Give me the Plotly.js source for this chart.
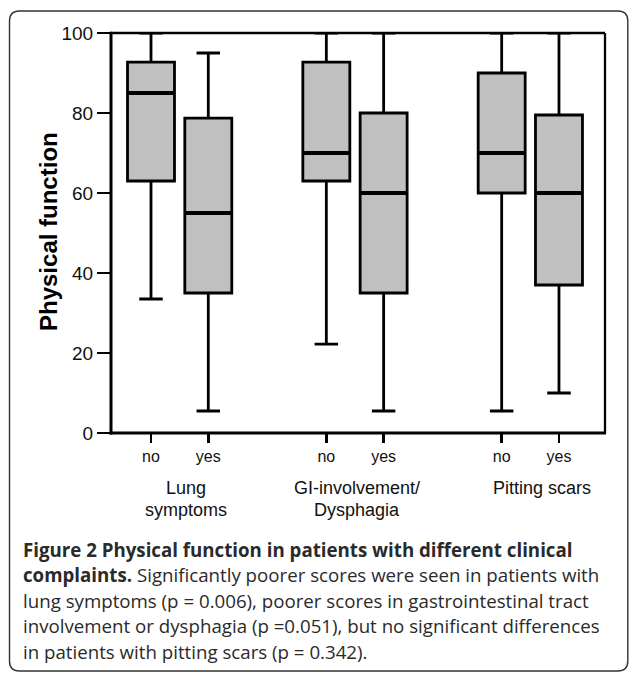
<!DOCTYPE html>
<html>
<head>
<meta charset="utf-8">
<script src="https://cdn.plot.ly/plotly-3.0.1.min.js"></script>
<style>
  html, body { margin: 0; padding: 0; background: #fff; }
  #chart { width: 629px; height: 673px; }
</style>
</head>
<body>
<div id="chart"></div>
<script>
// ---- data ----
const groups = ['Lung symptoms', 'GI-involvement/ Dysphagia', 'Pitting scars'];
const groupLabelLines = [['Lung', 'symptoms'], ['GI-involvement/', 'Dysphagia'], ['Pitting scars']];
const answers = ['no', 'yes'];
const lowerWhisker = [33.5, 5.5, 22.2, 5.5, 5.5, 10];
const q1Values     = [63, 35, 63, 35, 60, 37];
const medianValues = [85, 55, 70, 60, 70, 60];
const q3Values     = [92.7, 78.7, 92.7, 80, 90, 79.5];
const upperWhisker = [100, 95, 100, 100, 100, 100];
const yTickValues  = [0, 20, 40, 60, 80, 100];
const yTitle = 'Physical function';
const captionLines = [
  '<b>Figure 2 Physical function in patients with different clinical</b>',
  '<b>complaints.</b> Significantly poorer scores were seen in patients with',
  'lung symptoms (p = 0.006), poorer scores in gastrointestinal tract',
  'involvement or dysphagia (p =0.051), but no significant differences',
  'in patients with pitting scars (p = 0.342).'
];

// ---- layout geometry ----
const W = 629, H = 673;
const PL = 111, PR = 605, PT = 33, PB = 433;
const GROUP_GAP = 3.06;
const BOX_W = 0.82;
const fx = px => (px - PL) / (PR - PL);
const fy = py => (PB - py) / (PB - PT);

const positions = [];
const tickText = [];
groups.forEach((g, gi) => answers.forEach((a, ai) => {
  positions.push(gi * GROUP_GAP + ai);
  tickText.push(a);
}));

const ARIAL = '"Liberation Sans", Arial, sans-serif';
const CAPTION_FONT = '"Open Sans", "Noto Sans", sans-serif';

const boxTrace = {
  type: 'box',
  x: positions,
  q1: q1Values,
  median: medianValues,
  q3: q3Values,
  lowerfence: lowerWhisker,
  upperfence: upperWhisker,
  boxpoints: false,
  width: BOX_W,
  whiskerwidth: 0.5,
  fillcolor: '#c0c0c0',
  line: { color: '#000', width: 2.8 },
  hoverinfo: 'skip',
  showlegend: false
};

// thicker median bars
const mx = [], my = [];
positions.forEach((p, i) => {
  mx.push(p - BOX_W / 2 + 0.02, p + BOX_W / 2 - 0.02, null);
  my.push(medianValues[i], medianValues[i], null);
});
const medianTrace = {
  type: 'scatter', mode: 'lines', x: mx, y: my,
  line: { color: '#000', width: 4.2 },
  hoverinfo: 'skip', showlegend: false
};

const annotations = [];
// y axis title
annotations.push({
  xref: 'paper', yref: 'paper', x: fx(48), y: fy(231),
  text: '<b>' + yTitle + '</b>', textangle: -90, showarrow: false,
  xanchor: 'center', yanchor: 'middle',
  font: { family: ARIAL, size: 24, color: '#000' }
});
// group labels
const groupCenterPx = [186, 357, 542];
const lineCenterPx = [488, 510];
groupLabelLines.forEach((lines, gi) => {
  lines.forEach((ln, li) => {
    annotations.push({
      xref: 'paper', yref: 'paper', x: fx(groupCenterPx[gi]), y: fy(lineCenterPx[li]),
      text: ln, showarrow: false, xanchor: 'center', yanchor: 'middle',
      font: { family: ARIAL, size: 18, color: '#111' }
    });
  });
});
// caption
const captionCenterPx = [549, 574.5, 600, 625.5, 651];
captionLines.forEach((ln, i) => {
  annotations.push({
    xref: 'paper', yref: 'paper', x: fx(21), y: fy(captionCenterPx[i]),
    text: ln, showarrow: false, xanchor: 'left', yanchor: 'middle', align: 'left',
    font: { family: CAPTION_FONT, size: 18.7, color: '#2a2a2a' }
  });
});

// outer rounded frame
const L = 9.5, T = 11, R = 627.8, B = 671, r = 10;
const P = (px, py) => fx(px) + ',' + fy(py);
const framePath = 'M' + P(L, T + r) + ' Q' + P(L, T) + ' ' + P(L + r, T) +
  ' L' + P(R - r, T) + ' Q' + P(R, T) + ' ' + P(R, T + r) +
  ' L' + P(R, B - r) + ' Q' + P(R, B) + ' ' + P(R - r, B) +
  ' L' + P(L + r, B) + ' Q' + P(L, B) + ' ' + P(L, B - r) + ' Z';

const shapes = [
  { type: 'path', xref: 'paper', yref: 'paper', path: framePath,
    line: { color: '#333', width: 1.4 }, layer: 'below' },
  // plot frame
  { type: 'line', xref: 'paper', yref: 'paper', x0: 0, x1: 0, y0: -0.004, y1: 1.003, line: { color: '#000', width: 3 } },
  { type: 'line', xref: 'paper', yref: 'paper', x0: -0.003, x1: 1.002, y0: 0, y1: 0, line: { color: '#000', width: 3 } },
  { type: 'line', xref: 'paper', yref: 'paper', x0: 0, x1: 1, y0: 1, y1: 1, line: { color: '#000', width: 2.3 } },
  { type: 'line', xref: 'paper', yref: 'paper', x0: 1, x1: 1, y0: 0, y1: 1, line: { color: '#000', width: 2.3 } }
];

const xMin = (PL - 151) / 57.3, xMax = (PR - 151) / 57.3;

const layout = {
  width: W, height: H,
  margin: { l: PL, r: W - PR, t: PT, b: H - PB, pad: 0 },
  paper_bgcolor: '#fff', plot_bgcolor: '#fff',
  showlegend: false,
  xaxis: {
    range: [xMin, xMax], tickmode: 'array', tickvals: positions, ticktext: tickText,
    ticks: 'outside', ticklen: 9, tickwidth: 2.5, tickcolor: '#000',
    showgrid: false, zeroline: false, showline: false, fixedrange: true,
    tickfont: { family: ARIAL, size: 16, color: '#111' }
  },
  yaxis: {
    range: [0, 100], tickmode: 'array', tickvals: yTickValues,
    ticks: 'outside', ticklen: 13, tickwidth: 2.5, tickcolor: '#000',
    showgrid: false, zeroline: false, showline: false, fixedrange: true,
    tickfont: { family: ARIAL, size: 19, color: '#111' }
  },
  shapes: shapes,
  annotations: annotations
};

Plotly.newPlot('chart', [boxTrace, medianTrace], layout, { displayModeBar: false, staticPlot: true });
</script>
</body>
</html>
